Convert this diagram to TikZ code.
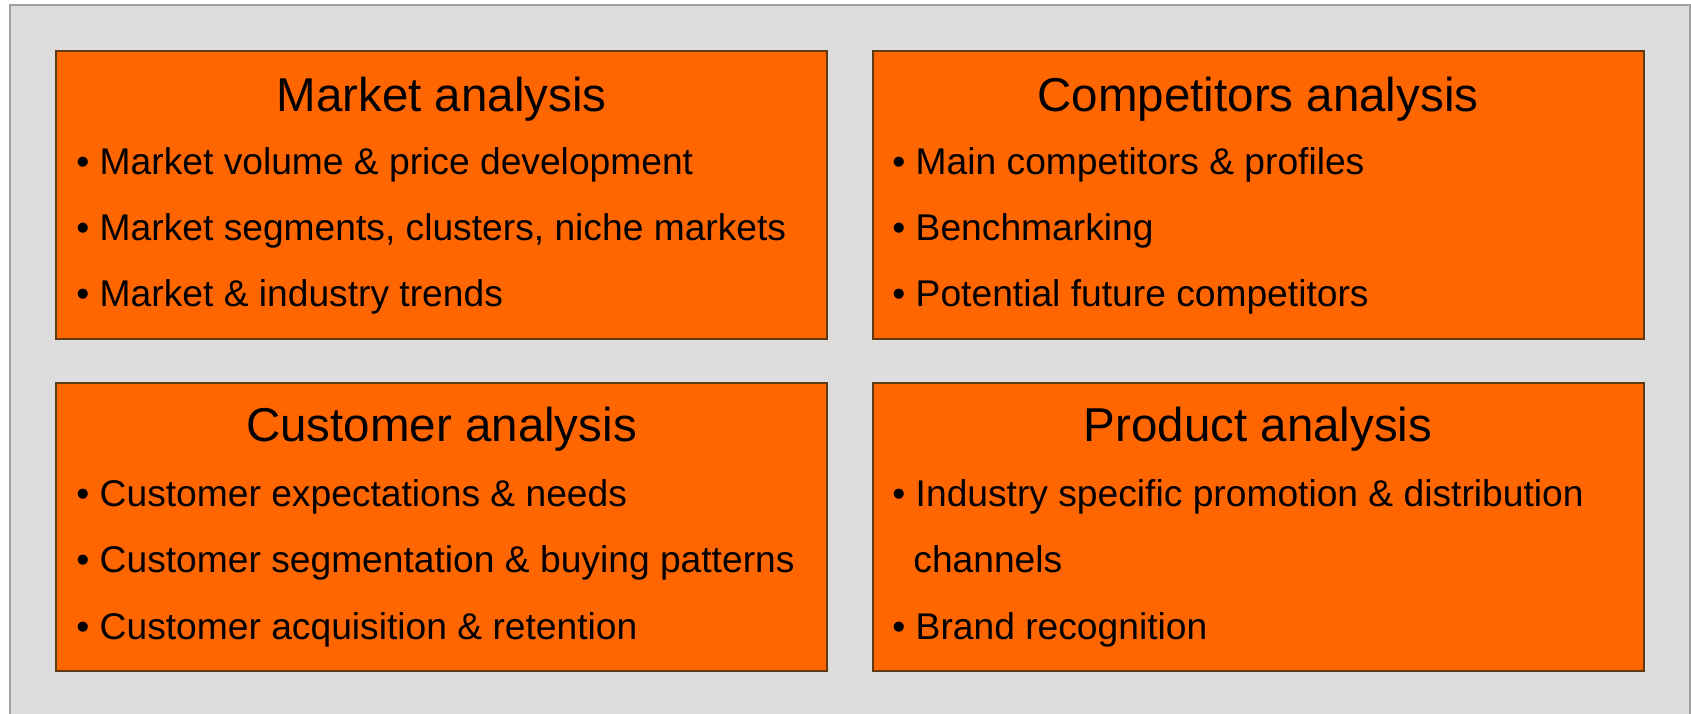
\documentclass[tikz,border=0pt]{standalone}
\usepackage{fontspec}
\setmainfont{Liberation Sans}
\definecolor{panelorange}{RGB}{255,102,0}
\definecolor{panelrim}{RGB}{96,58,18}
\definecolor{backgray}{RGB}{221,221,221}
\definecolor{framegray}{RGB}{160,160,160}

\begin{document}
\begin{tikzpicture}[x=0.5pt,y=-0.5pt,
    panel/.style={draw=panelrim,line width=1pt,fill=panelorange,minimum width=385.5pt,minimum height=144pt,inner sep=0pt},
    heading/.style={anchor=base,inner sep=0pt,font=\fontsize{23.75}{28}\selectfont},
    item/.style={anchor=base west,inner sep=0pt,font=\fontsize{18.6}{22}\selectfont}]

      \useasboundingbox (0,0) rectangle (1691,713);

      % Background
      \draw[framegray,line width=1pt,fill=backgray] (10,5) rectangle (1690,730);

      % Panels
      \node[panel] (market) at (441.5,195) {};
      \node[panel] (competitors) at (1258,195) {};
      \node[panel] (customer) at (441.5,527) {};
      \node[panel] (product) at (1258,527) {};

      % Headings
      \node[heading] (markettitle) at (441.5,111) {Market analysis};
      \node[heading] (competitorstitle) at (1258,111) {Competitors analysis};
      \node[heading] (customertitle) at (441.5,441) {Customer analysis};
      \node[heading] (producttitle) at (1258,441) {Product analysis};

      % Market items
      \node[item] (market1) at (76,174.5) {• Market volume \& price development};
      \node[item] (market2) at (76,240.5) {• Market segments, clusters, niche markets};
      \node[item] (market3) at (76,306.5) {• Market \& industry trends};

      % Competitors items
      \node[item] (competitors1) at (892,174.5) {• Main competitors \& profiles};
      \node[item] (competitors2) at (892,240.5) {• Benchmarking};
      \node[item] (competitors3) at (892,306.5) {• Potential future competitors};

      % Customer items
      \node[item] (customer1) at (76,506.5) {• Customer expectations \& needs};
      \node[item] (customer2) at (76,572.5) {• Customer segmentation \& buying patterns};
      \node[item] (customer3) at (76,639) {• Customer acquisition \& retention};

      % Product items
      \node[item] (product1) at (892,506.5) {• Industry specific promotion \& distribution};
      \node[item] (product2) at (913,572.5) {channels};
      \node[item] (product3) at (892,639) {• Brand recognition};

    \end{tikzpicture}
\end{document}
